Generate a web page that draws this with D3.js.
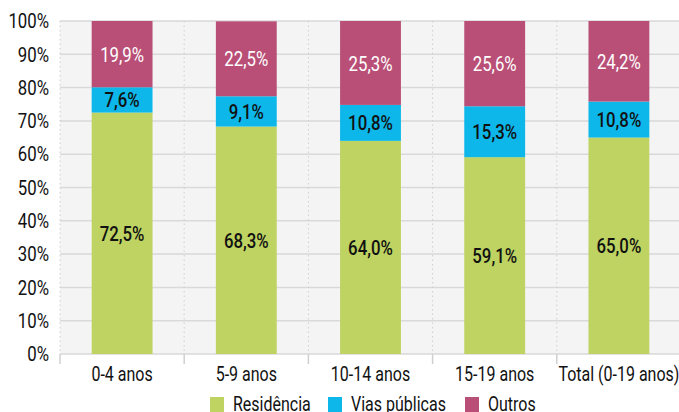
<!DOCTYPE html>
<html>
<head>
<meta charset="utf-8">
<script src="https://cdn.jsdelivr.net/npm/d3@7"></script>
<style>
  html, body { margin: 0; padding: 0; background: #ffffff; }
  svg { display: block; }
  text { font-family: "Roboto", "Liberation Sans", sans-serif; }
</style>
</head>
<body>
<svg id="chart" width="679" height="412"></svg>
<script>
// Age groups along the x axis
const categories = ["0-4 anos", "5-9 anos", "10-14 anos", "15-19 anos", "Total (0-19 anos)"];
// Share of cases by place of occurrence (%)
const residencia   = [72.5, 68.3, 64.0, 59.1, 65.0];
const viasPublicas = [7.6, 9.1, 10.8, 15.3, 10.8];
const outros       = [19.9, 22.5, 25.3, 25.6, 24.2];
const seriesNames  = ["Residência", "Vias públicas", "Outros"];
const yTicks       = [0, 10, 20, 30, 40, 50, 60, 70, 80, 90, 100];

const colors = { "Residência": "#bed361", "Vias públicas": "#0db7ea", "Outros": "#b94f77" };
const labelColors = { "Residência": "#111111", "Vias públicas": "#111111", "Outros": "#ffffff" };

const rows = categories.map((c, i) => ({
  cat: c,
  "Residência": residencia[i],
  "Vias públicas": viasPublicas[i],
  "Outros": outros[i]
}));

// narrow the lettering horizontally, keeping each text anchored where it was placed
const SX = 0.8;
function condense(sel) {
  sel.each(function () {
    const t = d3.select(this);
    const x0 = +(t.attr("x") || 0);
    t.attr("x", x0 / SX).attr("transform", `scale(${SX},1)`);
  });
}

const svg = d3.select("#chart");
const margin = { left: 60, right: -2, top: 21, bottom: 58 };
const W = 679, H = 412;
const plotW = W - margin.left - margin.right;
const plotH = H - margin.top - margin.bottom;

const x = d3.scaleBand().domain(categories).range([margin.left, margin.left + plotW]).paddingInner(0).paddingOuter(0);
const y = d3.scaleLinear().domain([0, 100]).range([margin.top + plotH, margin.top]);

// plot background
svg.append("rect")
  .attr("x", margin.left).attr("y", margin.top)
  .attr("width", W - margin.left).attr("height", plotH)
  .attr("fill", "#f4f4f4");

// horizontal gridlines
svg.append("g").selectAll("line").data(yTicks).join("line")
  .attr("x1", margin.left).attr("x2", W)
  .attr("y1", d => y(d)).attr("y2", d => y(d))
  .attr("stroke", "#d9d9d9").attr("stroke-width", 1.5);

// vertical dotted separators between categories
const bounds = categories.map(c => x(c)).concat([x(categories[categories.length - 1]) + x.bandwidth()]);
svg.append("g").selectAll("line").data(bounds).join("line")
  .attr("x1", d => d).attr("x2", d => d)
  .attr("y1", y(100)).attr("y2", y(0))
  .attr("stroke", "#cfcfcf").attr("stroke-width", 1)
  .attr("stroke-dasharray", "1.5,3");

// stacked bars
const stack = d3.stack().keys(seriesNames);
const stacked = stack(rows);
const barW = x.bandwidth() * 0.49;

const layers = svg.append("g").selectAll("g").data(stacked).join("g")
  .attr("fill", d => colors[d.key]);
layers.selectAll("rect").data(d => d.map(v => ({ v, key: d.key }))).join("rect")
  .attr("x", d => x(d.v.data.cat) + (x.bandwidth() - barW) / 2)
  .attr("width", barW)
  .attr("y", d => y(Math.min(d.v[1], 100)))
  .attr("height", d => y(d.v[0]) - y(Math.min(d.v[1], 100)));

// value labels
const fmt = v => v.toFixed(1).replace(".", ",") + "%";
layers.selectAll("text").data(d => d.map(v => ({ v, key: d.key }))).join("text")
  .attr("x", d => x(d.v.data.cat) + x.bandwidth() / 2)
  .attr("y", d => (y(d.v[0]) + y(Math.min(d.v[1], 100))) / 2)
  .attr("dy", "0.36em")
  .attr("text-anchor", "middle")
  .attr("font-size", 21)
  .attr("font-weight", d => d.key === "Outros" ? 400 : 500)
  .attr("fill", d => labelColors[d.key])
  .text(d => fmt(d.v.data[d.key]))
  .call(condense);

// y axis labels
const yAxis = d3.axisLeft(y).tickValues(yTicks).tickFormat(d => d + "%").tickSize(0).tickPadding(11);
const yg = svg.append("g").attr("transform", `translate(${margin.left},0)`).call(yAxis);
yg.select(".domain").remove();
yg.selectAll("text").attr("font-size", 21).attr("fill", "#111").attr("font-family", null).call(condense);

// x axis ticks at band edges and category labels
svg.append("g").selectAll("line").data(bounds).join("line")
  .attr("x1", d => d).attr("x2", d => d)
  .attr("y1", y(0)).attr("y2", y(0) + 10)
  .attr("stroke", "#d0d0d0").attr("stroke-width", 1.5);
const xAxis = d3.axisBottom(x).tickSize(0).tickPadding(13);
const xg = svg.append("g").attr("transform", `translate(0,${y(0)})`).call(xAxis);
xg.select(".domain").remove();
xg.selectAll("text").attr("font-size", 20).attr("fill", "#111").attr("font-family", null).call(condense);

// legend
const legendX = [210, 328, 465];
const lg = svg.append("g").selectAll("g").data(seriesNames).join("g")
  .attr("transform", (d, i) => `translate(${legendX[i]},397)`);
lg.append("rect").attr("width", 14).attr("height", 15).attr("fill", d => colors[d]);
lg.append("text").attr("x", 23).attr("y", 14).attr("font-size", 20).attr("fill", "#111").text(d => d).call(condense);
</script>
</body>
</html>
